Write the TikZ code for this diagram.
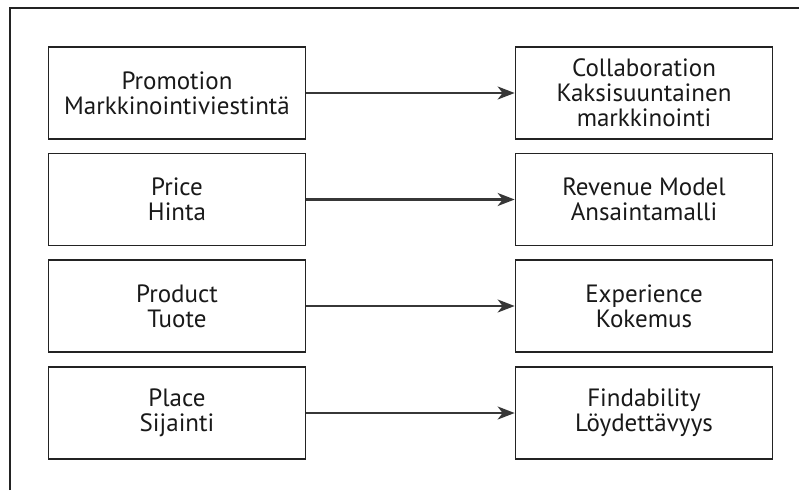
\documentclass[tikz,border=0pt]{standalone}
\usepackage{fontspec}
\setmainfont{PT Sans}
\usepackage{xcolor}
\definecolor{boxLine}{RGB}{35, 35, 35}
\definecolor{arrowGray}{RGB}{55, 55, 55}
\usepackage{tikz}
\usetikzlibrary{
    arrows.meta,
    positioning
}

\begin{document}
\begin{tikzpicture}[
    x=1pt, y=-1pt,
    mixBox/.style={
        rectangle,
        draw=boxLine, line width=1.7pt,
        fill=white, text=black!90,
        font=\fontsize{25}{25}\selectfont,
        align=center, inner sep=0pt,
        minimum width=257pt, minimum height=92pt
    },
    mapArrow/.style={
        -{Stealth[length=17pt, width=13pt, inset=5pt]}, line width=2.3pt, draw=arrowGray
    }
]
    \useasboundingbox (0,0) rectangle (799,490);

    % Outer frame (only top and left edges visible)
    \draw[line width=1.5pt, draw=boxLine] (10,490) -- (10,8) -- (799,8);

    % Left column: the classic 4P
    \node[mixBox] (promo) at (177, 93) {Promotion\\Markkinointiviestintä};
    \node[mixBox] (price) at (177, 199.5) {Price\\Hinta};
    \node[mixBox] (product) at (177, 306) {Product\\Tuote};
    \node[mixBox] (place) at (177, 413) {Place\\Sijainti};

    % Right column: the digital counterparts
    \node[mixBox] (collab) at (644, 93) {Collaboration\\Kaksisuuntainen\\markkinointi};
    \node[mixBox] (revenue) at (644, 199.5) {Revenue Model\\Ansaintamalli};
    \node[mixBox] (experience) at (644, 306) {Experience\\Kokemus};
    \node[mixBox] (findability) at (644, 413) {Findability\\Löydettävyys};

    % Mapping arrows
    \draw[mapArrow] (promo) -- (collab);
    \draw[mapArrow] (price) -- (revenue);
    \draw[mapArrow] (product) -- (experience);
    \draw[mapArrow] (place) -- (findability);

\end{tikzpicture}
\end{document}
